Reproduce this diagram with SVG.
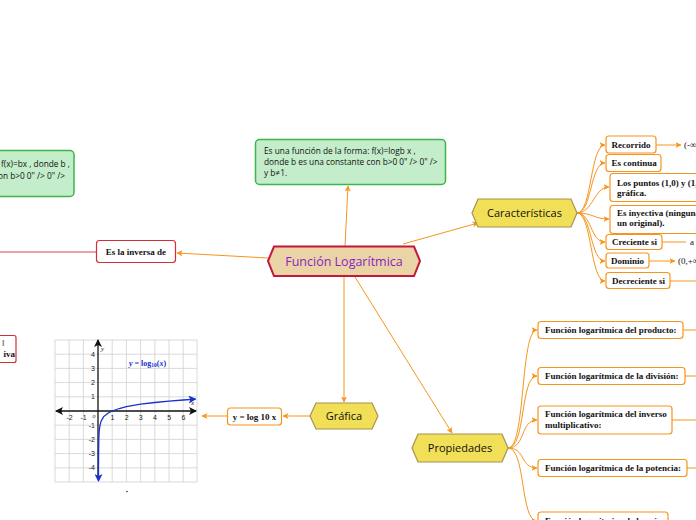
<svg xmlns="http://www.w3.org/2000/svg" width="696" height="520" viewBox="0 0 696 520">
<defs>
<style>
.con{fill:none;stroke:#f7941d;stroke-width:1}
.box{fill:#fff;stroke:#f7941d;stroke-width:1.2}
.rbox{fill:#fff;stroke:#d32f3a;stroke-width:1.2}
.gbox{fill:#c4edcb;stroke:#3cb54a;stroke-width:1.5}
.lbl{font-family:"Liberation Serif",serif;font-weight:bold;font-size:9px;fill:#111}
.gtx{font-family:"Open Sans",sans-serif;font-size:8.3px;fill:#111}
.hex{font-family:"Open Sans",sans-serif;font-size:11px;fill:#111;text-anchor:middle}
.yhex{fill:#f1df57;stroke:#a69252;stroke-width:1.2}
.grid{stroke:#d0d0d0;stroke-width:0.8}
.tick{font-family:"Liberation Sans",sans-serif;font-size:7px;fill:#222}
.plain{font-family:"Liberation Serif",serif;font-size:9px;fill:#111}
</style>
<marker id="ar" viewBox="0 0 6 6" refX="5.5" refY="3" markerWidth="6" markerHeight="6" orient="auto" markerUnits="userSpaceOnUse">
<path d="M0,0 L6,3 L0,6 L1.5,3 z" fill="#f7941d"/>
</marker>
<marker id="ak" viewBox="0 0 8 8" refX="7" refY="4" markerWidth="8" markerHeight="8" orient="auto" markerUnits="userSpaceOnUse">
<path d="M0,0 L8,4 L0,8 L2,4 z" fill="#111"/>
</marker>
<marker id="ab" viewBox="0 0 8 8" refX="7" refY="4" markerWidth="8" markerHeight="8" orient="auto" markerUnits="userSpaceOnUse">
<path d="M0,0 L8,4 L0,8 L2,4 z" fill="#1a2fd0"/>
</marker>
</defs>
<rect width="696" height="520" fill="#fff"/>

<g id="connectors">
<line class="con" x1="345" y1="246" x2="348" y2="186" marker-end="url(#ar)"/>
<line class="con" x1="268" y1="258" x2="177" y2="253" marker-end="url(#ar)"/>
<line x1="96" y1="252" x2="0" y2="252" stroke="#d9475a" stroke-width="1.2"/>
<line class="con" x1="403" y1="244" x2="478" y2="223" marker-end="url(#ar)"/>
<line class="con" x1="344" y1="277" x2="344" y2="402" marker-end="url(#ar)"/>
<line class="con" x1="355" y1="277" x2="452" y2="433" marker-end="url(#ar)"/>
<line class="con" x1="310" y1="416" x2="283" y2="416" marker-end="url(#ar)"/>
<line class="con" x1="227" y1="416" x2="202" y2="416" marker-end="url(#ar)"/>
<path class="con" d="M577,213 C592,213 590,145 605,145" marker-end="url(#ar)"/>
<path class="con" d="M577,213 C592,213 590,163 605,163" marker-end="url(#ar)"/>
<path class="con" d="M577,213 C593,213 594,187 609,187" marker-end="url(#ar)"/>
<path class="con" d="M577,213 C593,213 594,219 609,219" marker-end="url(#ar)"/>
<path class="con" d="M577,213 C592,213 590,242 605,242" marker-end="url(#ar)"/>
<path class="con" d="M577,213 C592,213 590,261 605,261" marker-end="url(#ar)"/>
<path class="con" d="M577,213 C592,213 590,281 605,281" marker-end="url(#ar)"/>
<line class="con" x1="656" y1="145" x2="681" y2="145" marker-end="url(#ar)"/>
<line class="con" x1="662" y1="242" x2="686" y2="242"/>
<line class="con" x1="649" y1="261" x2="675" y2="261" marker-end="url(#ar)"/>
<line class="con" x1="670" y1="281" x2="696" y2="281"/>
<path class="con" d="M508,448 C526,448 520,330 537,330" marker-end="url(#ar)"/>
<path class="con" d="M508,448 C526,448 520,376 537,376" marker-end="url(#ar)"/>
<path class="con" d="M508,448 C526,448 520,420 537,420" marker-end="url(#ar)"/>
<path class="con" d="M508,448 C526,448 520,468 537,468" marker-end="url(#ar)"/>
<path class="con" d="M508,448 C526,448 520,521 537,521" marker-end="url(#ar)"/>
<line class="con" x1="683" y1="330" x2="696" y2="330"/>
<line class="con" x1="685" y1="376" x2="696" y2="376"/>
<line class="con" x1="672" y1="420" x2="696" y2="420"/>
<line class="con" x1="687" y1="468" x2="696" y2="468"/>
</g>

<g id="n-central">
<polygon points="268,261 274,246.5 414,246.5 420,261 414,276 274,276" fill="#ead3a4" stroke="#c4173d" stroke-width="2"/>
<text x="344" y="265.5" font-family="'Open Sans',sans-serif" font-size="12.5px" fill="#8a1fc8" text-anchor="middle">Función Logarítmica</text>
</g>

<g id="n-def">
<rect class="gbox" x="255.5" y="139.5" width="190" height="45" rx="4"/>
<text class="gtx" x="264" y="154">Es una función de la forma: f(x)=logb x ,</text>
<text class="gtx" x="264" y="165">donde  b es una constante con b&gt;0 0" /&gt; 0" /&gt;</text>
<text class="gtx" x="264" y="176">y  b≠1.</text>
</g>

<g id="n-exp">
<rect class="gbox" x="-6" y="150.5" width="80" height="46" rx="4"/>
<text class="gtx" x="70" y="167" text-anchor="end">f(x)=bx , donde b ,</text>
<text class="gtx" x="65" y="179" text-anchor="end">on b&gt;0 0" /&gt; 0" /&gt;</text>
</g>

<g id="n-inversa">
<rect class="rbox" x="96.5" y="240.5" width="79" height="22" rx="3"/>
<text class="lbl" x="136" y="254.5" text-anchor="middle">Es la inversa de</text>
</g>

<g id="n-left">
<rect class="rbox" x="-6" y="335.5" width="22" height="27" rx="2"/>
<text class="lbl" x="2" y="346" fill="#777" style="fill:#888">l</text>
<text class="lbl" x="15" y="357" text-anchor="end">iva</text>
</g>

<g id="n-caracteristicas">
<polygon class="yhex" points="472,213 478,199 571,199 577,213 571,227 478,227"/>
<text class="hex" x="524.5" y="217">Características</text>
</g>

<g id="n-recorrido">
<rect class="box" x="606" y="136" width="50" height="17" rx="3"/>
<text class="lbl" x="611.5" y="148">Recorrido</text>
<text class="plain" x="684" y="148">(-∞</text>
</g>
<g id="n-continua">
<rect class="box" x="606" y="154.5" width="55" height="17" rx="3"/>
<text class="lbl" x="611.5" y="166">Es continua</text>
</g>
<g id="n-puntos">
<rect class="box" x="610" y="173.5" width="100" height="28" rx="3"/>
<text class="lbl" x="617" y="186">Los puntos (1,0) y (1,</text>
<text class="lbl" x="617" y="196">gráfica.</text>
</g>
<g id="n-inyectiva">
<rect class="box" x="610" y="205.5" width="100" height="28" rx="3"/>
<text class="lbl" x="617" y="216">Es inyectiva (ninguna</text>
<text class="lbl" x="617" y="226">un original).</text>
</g>
<g id="n-creciente">
<rect class="box" x="606" y="234.5" width="56" height="15" rx="3"/>
<text class="lbl" x="612" y="245">Creciente si</text>
<text class="plain" x="690" y="245">a</text>
</g>
<g id="n-dominio">
<rect class="box" x="606" y="253" width="43" height="15" rx="3"/>
<text class="lbl" x="611" y="264">Dominio</text>
<text class="plain" x="678" y="264">(0,+∞</text>
</g>
<g id="n-decreciente">
<rect class="box" x="606" y="272.5" width="64" height="16" rx="3"/>
<text class="lbl" x="612" y="284">Decreciente si</text>
</g>

<g id="n-propiedades">
<polygon class="yhex" points="412,448 418,434 502,434 508,448 502,462 418,462"/>
<text class="hex" x="460" y="452">Propiedades</text>
</g>
<g id="n-producto">
<rect class="box" x="538" y="321.5" width="145" height="17" rx="3"/>
<text class="lbl" x="545" y="333">Función logarítmica del producto:</text>
</g>
<g id="n-division">
<rect class="box" x="538" y="367.5" width="147" height="17" rx="3"/>
<text class="lbl" x="545" y="379">Función logarítmica de la división:</text>
</g>
<g id="n-inverso">
<rect class="box" x="538" y="406" width="134" height="28" rx="3"/>
<text class="lbl" x="545" y="417">Función logarítmica del inverso</text>
<text class="lbl" x="545" y="428">multiplicativo:</text>
</g>
<g id="n-potencia">
<rect class="box" x="538" y="459.5" width="149" height="17" rx="3"/>
<text class="lbl" x="545" y="471">Función logarítmica de la potencia:</text>
</g>
<g id="n-raiz">
<rect class="box" x="538" y="512" width="130" height="18" rx="3"/>
<text class="lbl" x="545" y="524">Función logarítmica de la raíz:</text>
</g>

<g id="n-grafica">
<polygon class="yhex" points="310,416 316,403 372,403 378,416 372,429 316,429"/>
<text class="hex" x="344" y="420">Gráfica</text>
</g>
<g id="n-ylog">
<rect class="box" x="227.5" y="408" width="54" height="17" rx="3"/>
<text class="lbl" x="254.5" y="419.5" text-anchor="middle">y = log 10 x</text>
</g>

<g id="n-graph">
<rect x="55" y="340" width="142" height="142" fill="#fff"/>
<g class="grid">
<line x1="55" y1="340" x2="55" y2="482"/><line x1="69.2" y1="340" x2="69.2" y2="482"/><line x1="83.4" y1="340" x2="83.4" y2="482"/><line x1="112.2" y1="340" x2="112.2" y2="482"/><line x1="126.4" y1="340" x2="126.4" y2="482"/><line x1="140.6" y1="340" x2="140.6" y2="482"/><line x1="154.8" y1="340" x2="154.8" y2="482"/><line x1="169" y1="340" x2="169" y2="482"/><line x1="183.2" y1="340" x2="183.2" y2="482"/><line x1="197" y1="340" x2="197" y2="482"/>
<line x1="55" y1="340" x2="197" y2="340"/><line x1="55" y1="354.2" x2="197" y2="354.2"/><line x1="55" y1="368.4" x2="197" y2="368.4"/><line x1="55" y1="382.6" x2="197" y2="382.6"/><line x1="55" y1="396.8" x2="197" y2="396.8"/><line x1="55" y1="425.2" x2="197" y2="425.2"/><line x1="55" y1="439.4" x2="197" y2="439.4"/><line x1="55" y1="453.6" x2="197" y2="453.6"/><line x1="55" y1="467.8" x2="197" y2="467.8"/><line x1="55" y1="482" x2="197" y2="482"/>
</g>
<line x1="62" y1="411" x2="56" y2="411" stroke="#111" stroke-width="1.3" marker-end="url(#ak)"/>
<line x1="60" y1="411" x2="196" y2="411" stroke="#111" stroke-width="1.3" marker-end="url(#ak)"/>
<line x1="98" y1="478" x2="98" y2="340" stroke="#111" stroke-width="1.3" marker-end="url(#ak)"/>
<path d="M98.5,470 L98.6,453.6 L98.8,439.4 L99.1,432.6 L99.4,429.5 L100,425.2 L101.2,420.9 L103.7,416.6 L107.9,413.2 L112.2,411 L119.3,408.5 L126.4,406.7 L140.6,404.2 L154.8,402.5 L169,401.1 L183.2,400 L195.5,399.1" fill="none" stroke="#1a2fd0" stroke-width="1.3" marker-end="url(#ab)"/>
<line x1="98.5" y1="470" x2="98.5" y2="481" stroke="#1a2fd0" stroke-width="1.3" marker-end="url(#ab)"/>
<g class="tick" text-anchor="middle">
<text x="69.5" y="420">-2</text><text x="83.5" y="420">-1</text><text x="112.5" y="420">1</text><text x="126.6" y="420">2</text><text x="140.8" y="420">3</text><text x="155" y="420">4</text><text x="169.2" y="420">5</text><text x="183.4" y="420">6</text>
</g>
<g class="tick" text-anchor="end">
<text x="95" y="356.6">4</text><text x="95" y="370.8">3</text><text x="95" y="385">2</text><text x="95" y="399.2">1</text><text x="95" y="427.6">-1</text><text x="95" y="441.8">-2</text><text x="95" y="456">-3</text><text x="95" y="470.2">-4</text>
</g>
<text x="94" y="418" font-family="'Liberation Serif',serif" font-style="italic" font-size="6px" fill="#222" text-anchor="middle">o</text>
<text x="101" y="351" font-family="'Liberation Serif',serif" font-style="italic" font-size="7px" fill="#222">y</text>
<text x="191" y="405" font-family="'Liberation Serif',serif" font-style="italic" font-size="7px" fill="#222">x</text>
<text x="129" y="365.5" font-family="'Liberation Serif',serif" font-size="8px" fill="#1a2fd0" font-weight="bold"><tspan font-style="italic">y</tspan> = log<tspan font-size="5.5px" dy="1.5">10</tspan><tspan dy="-1.5">(</tspan><tspan font-style="italic">x</tspan>)</text>
<circle cx="127" cy="491.5" r="0.8" fill="#333"/>
</g>
</svg>
